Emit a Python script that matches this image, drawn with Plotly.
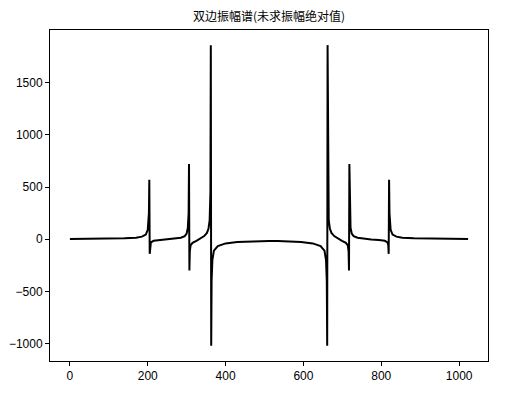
import plotly.graph_objects as go

bins = [
    0, 50, 100, 140, 170, 185, 195, 200, 203, 204, 205, 206, 208, 215, 230, 250,
    270, 285, 295, 300, 303, 305, 306, 307, 308, 310, 315, 325, 335, 345, 352,
    356, 359, 361, 362, 363, 364, 366, 370, 380, 400, 430, 460, 490, 512,
    534, 564, 594, 624, 644, 654, 658, 660, 661, 662, 663, 665, 668, 672, 679,
    689, 699, 709, 714, 716, 717, 718, 719, 721, 724, 729, 739, 754, 774, 794,
    809, 816, 818, 819, 820, 821, 824, 829, 839, 854, 884, 924, 974, 1023,
]
real_part = [
    3, 4, 6, 9, 15, 25, 45, 90, 250, 570, -140, -60, -30, -15, -8, -2,
    5, 15, 30, 55, 110, 250, 720, -300, -120, -60, -35, -15, 5, 30, 60,
    100, 180, 450, 1860, -1020, -400, -200, -110, -65, -40, -27, -21, -18, -17,
    -18, -21, -27, -40, -65, -110, -200, -400, -1020, 1860, 450, 180, 100, 60, 30,
    5, -15, -35, -60, -120, -300, 720, 250, 110, 55, 30, 15, 5, -2, -8,
    -15, -30, -60, -140, 570, 250, 90, 45, 25, 15, 9, 6, 4, 3,
]

x_ticks = [0, 200, 400, 600, 800, 1000]
y_ticks = [-1000, -500, 0, 500, 1000, 1500]

fig = go.Figure()
fig.add_trace(
    go.Scatter(
        x=bins,
        y=real_part,
        mode="lines",
        line=dict(color="black", width=2),
        showlegend=False,
    )
)

axis_style = dict(
    showline=True,
    linecolor="black",
    linewidth=1,
    mirror=True,
    showgrid=False,
    zeroline=False,
    automargin=False,
    ticks="outside",
    ticklen=4,
    tickcolor="black",
    tickfont=dict(family="Liberation Sans, Arial", size=12, color="black"),
)

# the page body adds an 8px margin, so the figure is 8px smaller each way
fig.update_layout(
    width=500,
    height=393,
    paper_bgcolor="white",
    plot_bgcolor="white",
    margin=dict(l=42, r=20, t=22, b=40),
    title=dict(
        text="双边振幅谱(未求振幅绝对值)",
        x=261 / 500,
        xanchor="center",
        y=1 - 9 / 393,
        yanchor="middle",
        font=dict(family="Noto Sans CJK SC", size=12, color="black"),
    ),
    xaxis=dict(axis_style, range=[-51.15, 1074.15], tickvals=x_ticks),
    yaxis=dict(axis_style, range=[-1167, 2005], tickvals=y_ticks),
)

fig.write_html("out.html")
